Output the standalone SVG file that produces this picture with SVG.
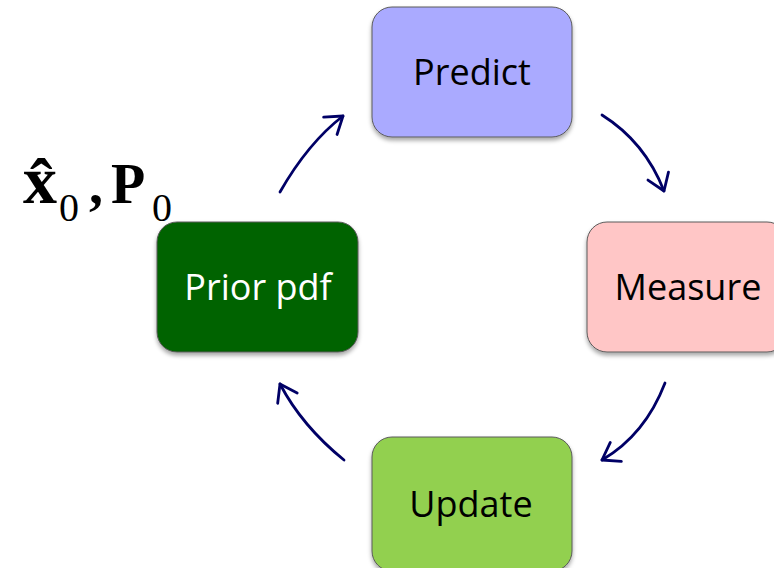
<svg xmlns="http://www.w3.org/2000/svg" width="774" height="568" viewBox="0 0 774 568">
  <style>
    .box { stroke: #5a5a5a; stroke-width: 1; filter: url(#shadow); }
    .label { font-family: "Open Sans", "Liberation Sans", sans-serif; font-size: 36px; text-anchor: middle; fill: #000000; }
    .conn { fill: none; stroke: #000066; stroke-width: 2.8; stroke-linecap: round; marker-end: url(#head); }
    .math { font-family: "Liberation Serif", "Times New Roman", serif; fill: #000000; }
  </style>
  <defs>
    <filter id="shadow" x="-10%" y="-10%" width="120%" height="130%">
      <feDropShadow dx="0" dy="3" stdDeviation="2" flood-color="#000000" flood-opacity="0.35"/>
    </filter>
    <marker id="head" markerUnits="userSpaceOnUse" markerWidth="26" markerHeight="26" viewBox="0 0 26 26" refX="22" refY="13" orient="auto">
      <path d="M6,2 L22,13 L6,24" fill="none" stroke="#000066" stroke-width="2.8" stroke-linecap="round" stroke-linejoin="round"/>
    </marker>
  </defs>

  <!-- initial state: x-hat_0, P_0 -->
  <g id="initial-state">
    <text class="math"><tspan x="23" y="203" font-size="68" font-weight="bold">x&#x302;</tspan><tspan x="59" y="221" font-size="40">0</tspan><tspan x="89" y="203" font-size="56" font-weight="bold">,</tspan><tspan x="111" y="203" font-size="56" font-weight="bold">P</tspan><tspan x="152" y="221" font-size="40">0</tspan></text>
  </g>

  <g id="connectors">
    <path class="conn" d="M280,192 Q308,143 343,116"/>
    <path class="conn" d="M602,115 Q645,142 664,191"/>
    <path class="conn" d="M665,383 Q645,435 602,460"/>
    <path class="conn" d="M344,460 Q302,426 280,384"/>
  </g>

  <g id="predict">
    <rect class="box" x="372" y="7" width="200" height="130" rx="20" fill="#aaaaff"/>
    <text class="label" x="472" y="85">Predict</text>
  </g>

  <g id="measure">
    <rect class="box" x="587" y="222" width="200" height="130" rx="20" fill="#ffc6c6"/>
    <text class="label" x="688" y="300">Measure</text>
  </g>

  <g id="update">
    <rect class="box" x="372" y="437" width="200" height="134" rx="20" fill="#92d050"/>
    <text class="label" x="471" y="517">Update</text>
  </g>

  <g id="prior-pdf">
    <rect class="box" x="157" y="222" width="201" height="130" rx="20" fill="#006400"/>
    <text class="label" x="258" y="300" style="fill:#ffffff">Prior pdf</text>
  </g>
</svg>
